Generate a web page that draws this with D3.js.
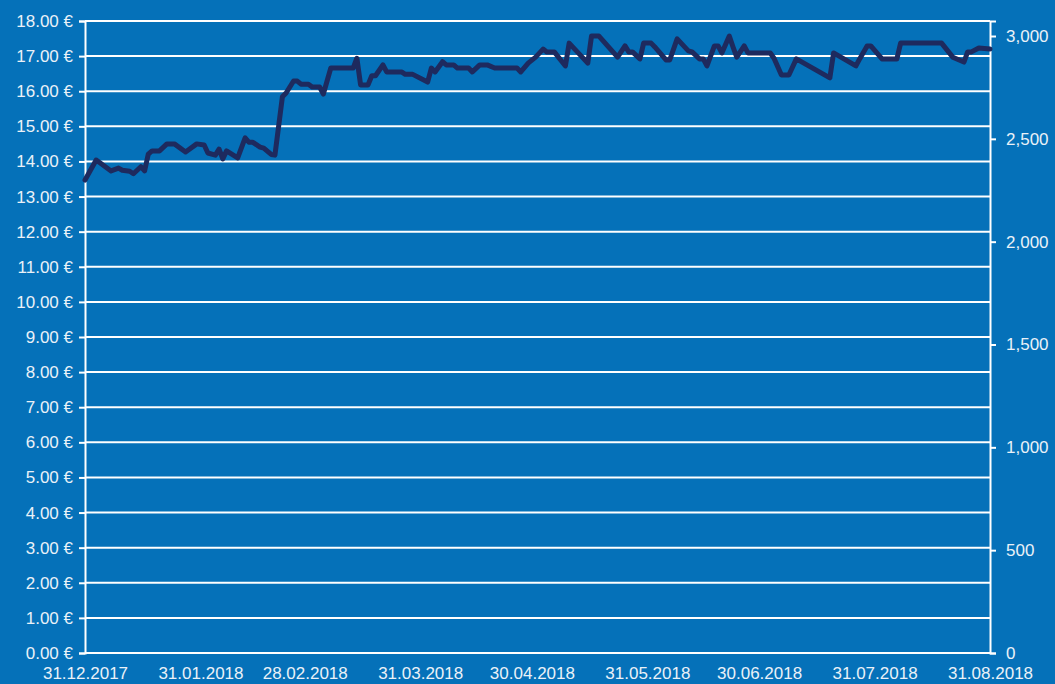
<!DOCTYPE html>
<html>
<head>
<meta charset="utf-8">
<script src="https://cdn.jsdelivr.net/npm/d3@7"></script>
<style>
  html, body { margin: 0; padding: 0; background: #0571b9; }
  svg { display: block; }
  text { font-family: "Liberation Sans", Arial, sans-serif; font-size: 17px; fill: #eaf1f8; }
</style>
</head>
<body>
<div id="chart"></div>
<script>
var margin = {top: 21, right: 65, bottom: 31, left: 85},
    W = 1055, H = 684,
    width = W - margin.left - margin.right,
    height = H - margin.top - margin.bottom;

/* daily closing price */
var dates = ["2017-12-31","2018-01-03","2018-01-07","2018-01-09","2018-01-10","2018-01-12","2018-01-13",
  "2018-01-15","2018-01-16","2018-01-17","2018-01-18","2018-01-20","2018-01-22","2018-01-24","2018-01-27",
  "2018-01-30","2018-02-01","2018-02-02","2018-02-04","2018-02-05","2018-02-06","2018-02-07","2018-02-10",
  "2018-02-12","2018-02-13","2018-02-14","2018-02-16","2018-02-17","2018-02-19","2018-02-20","2018-02-22",
  "2018-02-23","2018-02-25","2018-02-26","2018-02-27","2018-03-01","2018-03-02","2018-03-04","2018-03-05",
  "2018-03-07","2018-03-13","2018-03-14","2018-03-15","2018-03-17","2018-03-18","2018-03-19","2018-03-21",
  "2018-03-22","2018-03-26","2018-03-27","2018-03-29","2018-04-02","2018-04-03","2018-04-04","2018-04-06",
  "2018-04-07","2018-04-09","2018-04-10","2018-04-13","2018-04-14","2018-04-16","2018-04-18","2018-04-20",
  "2018-04-26","2018-04-27","2018-04-29","2018-05-01","2018-05-03","2018-05-04","2018-05-06","2018-05-09",
  "2018-05-10","2018-05-15","2018-05-16","2018-05-18","2018-05-23","2018-05-25","2018-05-26","2018-05-27",
  "2018-05-29","2018-05-30","2018-06-01","2018-06-02","2018-06-05","2018-06-06","2018-06-08","2018-06-11",
  "2018-06-12","2018-06-14","2018-06-15","2018-06-16","2018-06-18","2018-06-19","2018-06-20","2018-06-22",
  "2018-06-23","2018-06-24","2018-06-26","2018-06-27","2018-07-03","2018-07-04","2018-07-06","2018-07-08",
  "2018-07-10","2018-07-19","2018-07-20","2018-07-26","2018-07-27","2018-07-29","2018-07-30","2018-08-02",
  "2018-08-06","2018-08-07","2018-08-18","2018-08-21","2018-08-24","2018-08-25","2018-08-26","2018-08-28",
  "2018-08-31"];
var prices = [13.47,14.04,13.73,13.81,13.75,13.72,13.65,
  13.85,13.73,14.21,14.30,14.30,14.50,14.50,14.27,
  14.50,14.47,14.24,14.18,14.35,14.07,14.30,14.10,
  14.67,14.55,14.55,14.41,14.38,14.20,14.18,15.84,
  15.95,16.29,16.29,16.20,16.20,16.12,16.12,15.92,
  16.66,16.66,16.94,16.18,16.18,16.44,16.44,16.75,
  16.55,16.55,16.48,16.48,16.26,16.66,16.55,16.84,
  16.75,16.75,16.66,16.66,16.55,16.75,16.75,16.66,
  16.66,16.55,16.80,16.97,17.20,17.12,17.12,16.72,
  17.37,16.80,17.57,17.57,16.97,17.29,17.12,17.12,
  16.92,17.37,17.37,17.26,16.89,16.89,17.49,17.15,
  17.12,16.92,16.92,16.72,17.29,17.29,17.09,17.57,
  17.26,16.97,17.29,17.09,17.09,16.94,16.46,16.46,
  16.92,16.38,17.09,16.72,16.92,17.29,17.29,16.92,
  16.92,17.37,17.37,16.97,16.83,17.12,17.12,17.23,
  17.20];

var xTicks = ["2017-12-31","2018-01-31","2018-02-28","2018-03-31","2018-04-30",
              "2018-05-31","2018-06-30","2018-07-31","2018-08-31"];
var leftTicks = d3.range(0, 19, 1);
var rightTicks = [0, 500, 1000, 1500, 2000, 2500, 3000];

var parse = d3.timeParse("%Y-%m-%d");
var fmtDate = d3.timeFormat("%d.%m.%Y");

var data = dates.map(function(d, i) { return {date: parse(d), value: prices[i]}; });

var svg = d3.select("#chart").append("svg")
    .attr("width", W).attr("height", H);

var g = svg.append("g")
    .attr("transform", "translate(" + margin.left + "," + margin.top + ")");

var x = d3.scaleTime()
    .domain([parse(xTicks[0]), parse(xTicks[xTicks.length - 1])])
    .range([0, width]);

var y = d3.scaleLinear().domain([0, 18]).range([height, 0]);

/* right axis has no series of its own, 3,000 sits a bit under the top */
var y2 = d3.scaleLinear().domain([0, 3073]).range([height, 0]);

/* grid lines */
g.append("g").selectAll("line")
    .data(leftTicks)
    .enter().append("line")
    .attr("x1", 0).attr("x2", width)
    .attr("y1", function(d) { return y(d); })
    .attr("y2", function(d) { return y(d); })
    .attr("stroke", "#ffffff")
    .attr("stroke-width", 2);

/* left axis */
var yAxis = g.append("g")
    .call(d3.axisLeft(y).tickValues(leftTicks).tickSize(6).tickPadding(6)
      .tickFormat(function(d) { return d3.format(".2f")(d) + " €"; }));
yAxis.select(".domain").attr("stroke", "#ffffff").attr("stroke-width", 2);
yAxis.selectAll(".tick line").attr("stroke", "#ffffff").attr("stroke-width", 2);
yAxis.selectAll("text").style("font-size", "17px").attr("fill", "#eaf1f8");

/* right axis */
var y2Axis = g.append("g")
    .attr("transform", "translate(" + width + ",0)")
    .call(d3.axisRight(y2).tickValues(rightTicks).tickSize(6).tickPadding(10)
      .tickFormat(d3.format(",")));
y2Axis.select(".domain").attr("stroke", "#ffffff").attr("stroke-width", 2);
y2Axis.selectAll(".tick line").attr("stroke", "#ffffff").attr("stroke-width", 2);
y2Axis.selectAll("text").style("font-size", "17px").attr("fill", "#eaf1f8");

/* bottom labels */
var xAxis = g.append("g")
    .attr("transform", "translate(0," + height + ")")
    .call(d3.axisBottom(x).tickValues(xTicks.map(parse)).tickSize(0).tickPadding(14)
      .tickFormat(fmtDate));
xAxis.select(".domain").remove();
xAxis.selectAll("text").style("font-size", "17px").attr("fill", "#eaf1f8");

/* price line */
var line = d3.line()
    .x(function(d) { return x(d.date); })
    .y(function(d) { return y(d.value); });

g.append("path")
    .datum(data)
    .attr("fill", "none")
    .attr("stroke", "#1e2a5e")
    .attr("stroke-width", 5)
    .attr("stroke-linejoin", "round")
    .attr("stroke-linecap", "round")
    .attr("d", line);
</script>
</body>
</html>
